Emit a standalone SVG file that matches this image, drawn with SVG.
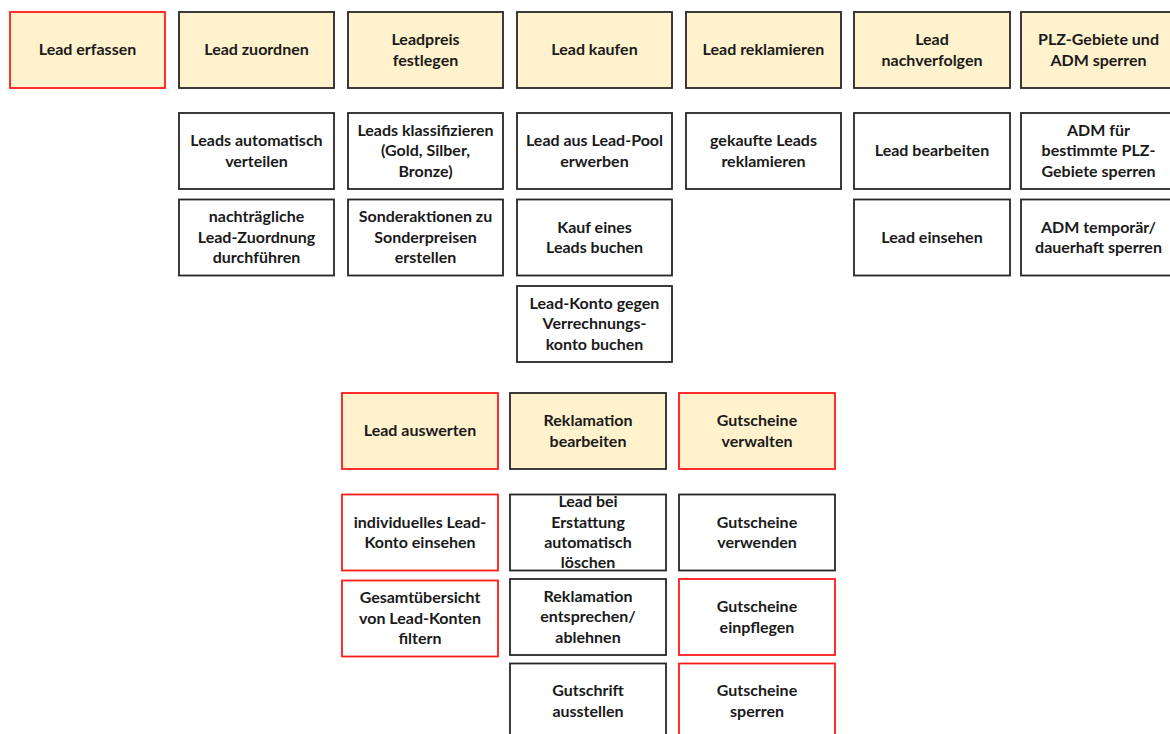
<svg xmlns="http://www.w3.org/2000/svg" width="1170" height="734" viewBox="0 0 1170 734">
  <style>
    .box { stroke: #262626; stroke-width: 1.8; fill: #ffffff; }
    .head { fill: #fff2cc; }
    .red { stroke: #ff1a1a; }
    text { font-family: Lato, "Liberation Sans", sans-serif; font-weight: bold; font-size: 16px; fill: #1a1a1a; text-anchor: middle; }
  </style>
  <rect width="1170" height="734" fill="#ffffff"/>

  <!-- Top row: process headers -->
  <g id="lead-erfassen"><rect class="box head red" x="10" y="12" width="155" height="76"/><text x="87.5" y="55">Lead erfassen</text></g>
  <g id="lead-zuordnen"><rect class="box head" x="179" y="12" width="155" height="76"/><text x="256.5" y="55">Lead zuordnen</text></g>
  <g id="leadpreis-festlegen"><rect class="box head" x="348" y="12" width="155" height="76"/><text x="425.5" y="45">Leadpreis</text><text x="425.5" y="65.5">festlegen</text></g>
  <g id="lead-kaufen"><rect class="box head" x="517" y="12" width="155" height="76"/><text x="594.5" y="55">Lead kaufen</text></g>
  <g id="lead-reklamieren"><rect class="box head" x="686" y="12" width="155" height="76"/><text x="763.5" y="55">Lead reklamieren</text></g>
  <g id="lead-nachverfolgen"><rect class="box head" x="854" y="12" width="156" height="76"/><text x="932" y="45">Lead</text><text x="932" y="65.5">nachverfolgen</text></g>
  <g id="plz-adm-sperren"><rect class="box head" x="1021" y="12" width="155" height="76"/><text x="1098.5" y="45">PLZ-Gebiete und</text><text x="1098.5" y="65.5">ADM sperren</text></g>

  <!-- Second row -->
  <g id="leads-verteilen"><rect class="box" x="179" y="113" width="155" height="76"/><text x="256.5" y="146">Leads automatisch</text><text x="256.5" y="166.5">verteilen</text></g>
  <g id="leads-klassifizieren"><rect class="box" x="348" y="113" width="155" height="76"/><text x="425.5" y="135.5">Leads klassifizieren</text><text x="425.5" y="156">(Gold, Silber,</text><text x="425.5" y="176.5">Bronze)</text></g>
  <g id="lead-erwerben"><rect class="box" x="517" y="113" width="155" height="76"/><text x="594.5" y="146">Lead aus Lead-Pool</text><text x="594.5" y="166.5">erwerben</text></g>
  <g id="leads-reklamieren"><rect class="box" x="686" y="113" width="155" height="76"/><text x="763.5" y="146">gekaufte Leads</text><text x="763.5" y="166.5">reklamieren</text></g>
  <g id="lead-bearbeiten"><rect class="box" x="854" y="113" width="156" height="76"/><text x="932" y="156">Lead bearbeiten</text></g>
  <g id="adm-plz-sperren"><rect class="box" x="1021" y="113" width="155" height="76"/><text x="1098.5" y="135.5">ADM für</text><text x="1098.5" y="156">bestimmte PLZ-</text><text x="1098.5" y="176.5">Gebiete sperren</text></g>

  <!-- Third row -->
  <g id="lead-nachtraeglich-zuordnen"><rect class="box" x="179" y="199.5" width="155" height="76"/><text x="256.5" y="222">nachträgliche</text><text x="256.5" y="242.5">Lead-Zuordnung</text><text x="256.5" y="263">durchführen</text></g>
  <g id="sonderaktionen"><rect class="box" x="348" y="199.5" width="155" height="76"/><text x="425.5" y="222">Sonderaktionen zu</text><text x="425.5" y="242.5">Sonderpreisen</text><text x="425.5" y="263">erstellen</text></g>
  <g id="kauf-buchen"><rect class="box" x="517" y="199.5" width="155" height="76"/><text x="594.5" y="232.5">Kauf eines</text><text x="594.5" y="253">Leads buchen</text></g>
  <g id="lead-einsehen"><rect class="box" x="854" y="199.5" width="156" height="76"/><text x="932" y="242.5">Lead einsehen</text></g>
  <g id="adm-temporaer-sperren"><rect class="box" x="1021" y="199.5" width="155" height="76"/><text x="1098.5" y="232.5">ADM temporär/</text><text x="1098.5" y="253">dauerhaft sperren</text></g>

  <!-- Fourth row -->
  <g id="lead-konto-buchen"><rect class="box" x="517" y="286" width="155" height="76"/><text x="594.5" y="308.5">Lead-Konto gegen</text><text x="594.5" y="329">Verrechnungs-</text><text x="594.5" y="349.5">konto buchen</text></g>

  <!-- Lower block: headers -->
  <g id="lead-auswerten"><rect class="box head red" x="342" y="393" width="156" height="76"/><text x="420" y="436">Lead auswerten</text></g>
  <g id="reklamation-bearbeiten"><rect class="box head" x="510" y="393" width="156" height="76"/><text x="588" y="426">Reklamation</text><text x="588" y="446.5">bearbeiten</text></g>
  <g id="gutscheine-verwalten"><rect class="box head red" x="679" y="393" width="156" height="76"/><text x="757" y="426">Gutscheine</text><text x="757" y="446.5">verwalten</text></g>

  <!-- Lower block: tasks -->
  <g id="lead-konto-einsehen"><rect class="box red" x="342" y="494.5" width="156" height="76"/><text x="420" y="527.5">individuelles Lead-</text><text x="420" y="548">Konto einsehen</text></g>
  <g id="lead-loeschen"><rect class="box" x="510" y="494.5" width="156" height="76"/><text x="588" y="507">Lead bei</text><text x="588" y="527.5">Erstattung</text><text x="588" y="548">automatisch</text><text x="588" y="568">löschen</text></g>
  <g id="gutscheine-verwenden"><rect class="box" x="679" y="494.5" width="156" height="76"/><text x="757" y="527.5">Gutscheine</text><text x="757" y="548">verwenden</text></g>

  <g id="lead-konten-filtern"><rect class="box red" x="342" y="580.5" width="156" height="76"/><text x="420" y="603">Gesamtübersicht</text><text x="420" y="623.5">von Lead-Konten</text><text x="420" y="644">filtern</text></g>
  <g id="reklamation-entscheiden"><rect class="box" x="510" y="579" width="156" height="76"/><text x="588" y="601.5">Reklamation</text><text x="588" y="622">entsprechen/</text><text x="588" y="642.5">ablehnen</text></g>
  <g id="gutscheine-einpflegen"><rect class="box red" x="679" y="579" width="156" height="76"/><text x="757" y="612">Gutscheine</text><text x="757" y="632.5">einpflegen</text></g>

  <g id="gutschrift-ausstellen"><rect class="box" x="510" y="663.5" width="156" height="76"/><text x="588" y="696">Gutschrift</text><text x="588" y="716.5">ausstellen</text></g>
  <g id="gutscheine-sperren"><rect class="box red" x="679" y="663.5" width="156" height="76"/><text x="757" y="696">Gutscheine</text><text x="757" y="716.5">sperren</text></g>

  <!-- No connectors are drawn between the boxes -->
  <g id="connectors"/>
</svg>
